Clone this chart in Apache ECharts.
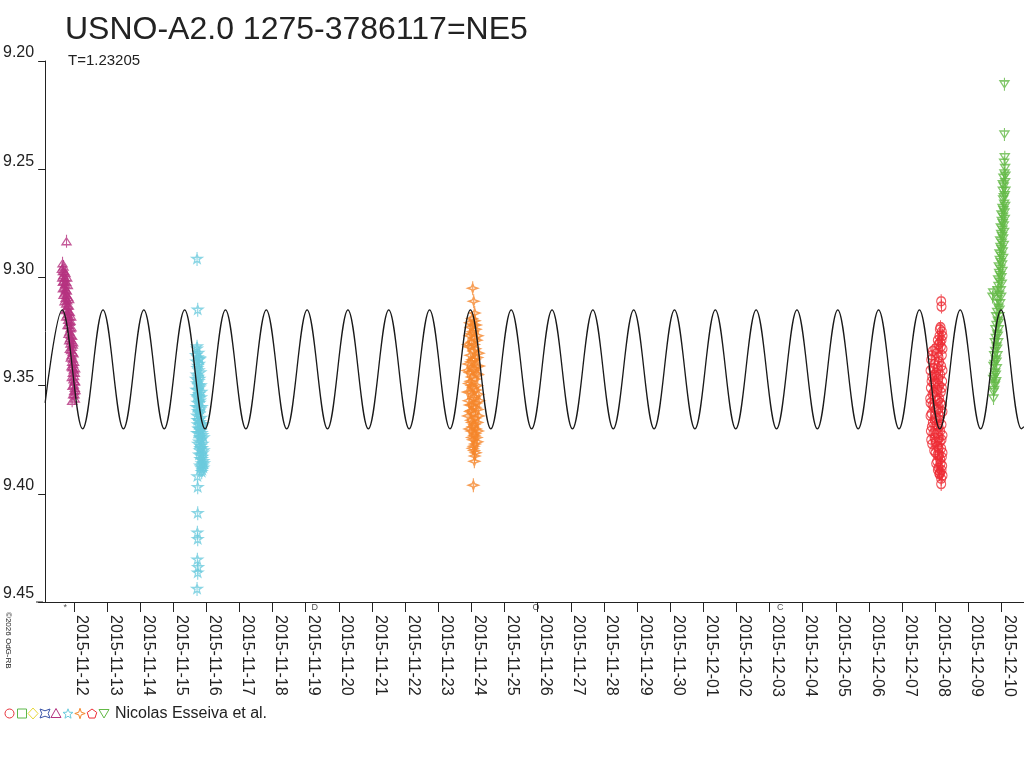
<!DOCTYPE html>
<html><head><meta charset="utf-8">
<script src="https://cdn.jsdelivr.net/npm/echarts@6/dist/echarts.min.js"></script>
<style>html,body{margin:0;padding:0;background:#fff}#c{width:1024px;height:768px}</style>
</head><body><div id="c"></div>
<script>
// time t = days since 2015-11-12 00:00
const dayTicks = [0,1,2,3,4,5,6,7,8,9,10,11,12,13,14,15,16,17,18,19,20,21,22,23,24,25,26,27,28];
const tickLabels = ['2015-11-12','2015-11-13','2015-11-14','2015-11-15','2015-11-16','2015-11-17','2015-11-18','2015-11-19','2015-11-20','2015-11-21','2015-11-22','2015-11-23','2015-11-24','2015-11-25','2015-11-26','2015-11-27','2015-11-28','2015-11-29','2015-11-30','2015-12-01','2015-12-02','2015-12-03','2015-12-04','2015-12-05','2015-12-06','2015-12-07','2015-12-08','2015-12-09','2015-12-10'];
const magTicks = [9.20,9.25,9.30,9.35,9.40,9.45];

// model curve (period T=1.23205): extremes
const curveT = [-0.865,-0.35,0.266,0.882,1.498,2.114,2.730,3.346,3.962,4.578,5.194,5.810,6.426,7.042,7.658,8.274,8.890,9.506,10.122,10.738,11.354,11.971,12.587,13.203,13.819,14.435,15.051,15.667,16.283,16.899,17.515,18.131,18.747,19.363,19.979,20.595,21.211,21.827,22.443,23.059,23.675,24.291,24.907,25.523,26.139,26.755,27.371,27.987,28.603,28.68];
const curveMag = [9.358,9.315,9.370,9.315,9.370,9.315,9.370,9.315,9.370,9.315,9.370,9.315,9.370,9.315,9.370,9.315,9.370,9.315,9.370,9.315,9.370,9.315,9.370,9.315,9.370,9.315,9.370,9.315,9.370,9.315,9.370,9.315,9.370,9.315,9.370,9.315,9.370,9.315,9.370,9.315,9.370,9.315,9.370,9.315,9.370,9.315,9.370,9.315,9.370,9.369];

const magentaTri = [[-0.22,9.2833],[-0.34,9.2935],[-0.31,9.2950],[-0.29,9.2970],[-0.32,9.2990],[-0.27,9.3000],[-0.33,9.3020],[-0.30,9.3015],[-0.20,9.3000],[-0.26,9.3030],[-0.28,9.3045],[-0.24,9.3055],[-0.27,9.3070],[-0.22,9.3080],[-0.25,9.3095],[-0.20,9.3105],[-0.14,9.3100],[-0.23,9.3120],[-0.18,9.3130],[-0.21,9.3145],[-0.16,9.3155],[-0.19,9.3170],[-0.08,9.3180],[-0.14,9.3180],[-0.17,9.3195],[-0.12,9.3205],[-0.15,9.3220],[-0.10,9.3235],[-0.13,9.3250],[-0.09,9.3265],[-0.11,9.3280],[-0.07,9.3290],[-0.10,9.3305],[-0.02,9.3300],[-0.06,9.3320],[-0.08,9.3335],[-0.04,9.3345],[-0.07,9.3360],[-0.03,9.3375],[-0.05,9.3390],[-0.02,9.3400],[0.04,9.3420],[-0.04,9.3415],[0.00,9.3425],[-0.03,9.3440],[0.01,9.3455],[-0.01,9.3470],[0.02,9.3480],[0.00,9.3495],[0.03,9.3510],[0.01,9.3525],[0.02,9.3540],[-0.05,9.3570],
[-0.36,9.296],[-0.25,9.298],[-0.35,9.300],[-0.23,9.302],[-0.33,9.305],[-0.21,9.306],[-0.31,9.308],[-0.17,9.309],[-0.28,9.311],[-0.15,9.313],[-0.26,9.315],[-0.12,9.316],[-0.23,9.318],[-0.10,9.320],[-0.19,9.322],[-0.07,9.323],[-0.16,9.326],[-0.05,9.327],[-0.14,9.329],[-0.03,9.331],[-0.12,9.333],[-0.01,9.335],[-0.09,9.337],[0.01,9.339],[-0.07,9.341],[0.03,9.344],[-0.06,9.346],[0.04,9.348],[-0.04,9.350],[0.05,9.352],[-0.02,9.354],[0.03,9.356],[-0.33,9.297],[-0.18,9.3035]];

const cyanStar = [[3.72,9.2915],[3.74,9.3150],[3.72,9.3320],[3.73,9.3920],[3.74,9.3970],[3.74,9.4090],[3.73,9.4180],[3.74,9.4210],[3.73,9.4305],[3.75,9.4340],[3.74,9.4365],[3.72,9.4440],
[3.72,9.333],[3.76,9.335],[3.74,9.337],[3.70,9.339],[3.78,9.340],[3.73,9.342],[3.77,9.343],[3.71,9.345],[3.75,9.346],[3.79,9.347],[3.72,9.349],[3.76,9.350],[3.80,9.351],[3.74,9.352],[3.78,9.354],[3.71,9.355],[3.75,9.356],[3.81,9.357],[3.73,9.358],[3.77,9.360],[3.82,9.361],[3.75,9.362],[3.79,9.363],[3.72,9.364],[3.84,9.365],[3.77,9.366],[3.81,9.367],[3.74,9.368],[3.86,9.369],[3.79,9.370],[3.83,9.371],[3.76,9.372],[3.88,9.373],[3.81,9.374],[3.85,9.375],[3.78,9.376],[3.89,9.377],[3.83,9.378],[3.87,9.379],[3.80,9.380],[3.90,9.381],[3.85,9.382],[3.88,9.383],[3.82,9.384],[3.91,9.385],[3.86,9.386],[3.89,9.387],[3.84,9.388],[3.88,9.389],
[3.69,9.336],[3.80,9.338],[3.75,9.341],[3.82,9.344],[3.69,9.347],[3.77,9.348],[3.83,9.350],[3.70,9.352],[3.85,9.353],[3.76,9.355],[3.80,9.358],[3.70,9.360],[3.86,9.360],[3.78,9.362],[3.73,9.366],[3.83,9.368],[3.90,9.368],[3.76,9.370],[3.72,9.372],[3.86,9.372],[3.92,9.374],[3.75,9.377],[3.82,9.379],[3.92,9.380],[3.78,9.382],[3.87,9.384],[3.93,9.386],[3.81,9.387],[3.91,9.388],[3.86,9.390],[3.80,9.3375],[3.84,9.3555]];

const orangeSpark = [[12.04,9.305],[12.07,9.311],[12.10,9.3165],[12.09,9.385],[12.06,9.396],
[12.02,9.319],[12.10,9.320],[12.06,9.322],[11.98,9.323],[12.13,9.324],[12.04,9.325],[11.95,9.327],[12.09,9.328],[12.16,9.329],[12.00,9.330],[11.93,9.332],[12.12,9.333],[12.06,9.334],[11.97,9.336],[12.18,9.337],[12.03,9.338],[11.91,9.340],[12.14,9.341],[12.08,9.342],[11.95,9.344],[12.20,9.345],[12.01,9.346],[12.11,9.347],[11.93,9.349],[12.17,9.350],[12.05,9.351],[11.98,9.353],[12.21,9.354],[12.09,9.355],[11.92,9.357],[12.15,9.358],[12.02,9.359],[12.19,9.361],[11.96,9.362],[12.07,9.363],[12.12,9.365],[11.99,9.366],[12.18,9.367],[12.04,9.369],[12.14,9.370],[12.00,9.371],[12.09,9.373],[12.16,9.374],[12.05,9.375],[12.11,9.377],[12.07,9.378],
[11.96,9.321],[12.14,9.322],[12.00,9.326],[12.19,9.327],[11.90,9.331],[12.08,9.331],[12.22,9.335],[11.99,9.339],[12.10,9.338],[11.88,9.343],[12.05,9.343],[12.23,9.341],[11.97,9.348],[12.14,9.352],[12.01,9.350],[11.89,9.353],[12.24,9.357],[12.06,9.356],[11.95,9.359],[12.12,9.360],[11.90,9.364],[12.22,9.364],[12.02,9.367],[12.09,9.368],[11.94,9.370],[12.20,9.371],[12.12,9.372],[12.02,9.374],[12.18,9.376],[12.08,9.380],[12.13,9.381],[12.04,9.379],[12.10,9.3825],[12.00,9.3615],[12.16,9.3445]];

const redCircle = [[26.18,9.311],[26.19,9.3135],[26.13,9.3906],[26.18,9.393],[26.18,9.3955],
[26.16,9.323],[26.20,9.325],[26.13,9.327],[26.19,9.329],[26.10,9.331],[26.17,9.332],[25.93,9.334],[26.05,9.335],[26.20,9.336],[25.88,9.338],[26.12,9.339],[25.98,9.340],[26.18,9.341],[25.86,9.343],[26.03,9.344],[26.15,9.345],[25.91,9.346],[26.09,9.347],[26.21,9.348],[25.95,9.349],[25.87,9.351],[26.06,9.352],[26.17,9.353],[25.92,9.354],[26.00,9.355],[26.12,9.356],[25.86,9.358],[26.20,9.359],[25.96,9.360],[26.08,9.361],[25.89,9.363],[26.15,9.364],[26.02,9.365],[25.93,9.367],[26.19,9.368],[26.10,9.369],[25.87,9.371],[26.05,9.372],[26.22,9.373],[25.98,9.374],[26.14,9.376],[25.91,9.377],[26.07,9.378],[26.18,9.379],[26.01,9.381],[26.12,9.382],[26.20,9.383],[26.06,9.385],[26.16,9.386],[26.10,9.388],[26.19,9.389],[26.13,9.391],
[26.14,9.324],[26.22,9.327],[26.08,9.329],[26.15,9.330],[26.00,9.333],[26.22,9.333],[25.90,9.336],[26.10,9.337],[25.94,9.342],[26.22,9.343],[26.07,9.342],[25.98,9.345],[26.12,9.350],[25.89,9.348],[26.02,9.349],[26.20,9.351],[25.96,9.353],[25.85,9.356],[26.08,9.357],[26.15,9.358],[25.92,9.359],[26.03,9.361],[26.22,9.362],[25.86,9.364],[25.99,9.366],[26.12,9.366],[26.06,9.368],[25.90,9.369],[26.15,9.371],[25.95,9.372],[26.11,9.374],[26.19,9.375],[26.02,9.376],[25.88,9.375],[26.10,9.379],[25.97,9.380],[26.22,9.381],[26.07,9.382],[26.15,9.384],[26.03,9.386],[26.21,9.387],[26.08,9.389],[26.15,9.390],[26.22,9.3915]];

const greenTri = [[28.09,9.2108],[28.09,9.2340],[28.10,9.2445],[28.08,9.2470],[28.11,9.2495],
[28.09,9.252],[28.06,9.254],[28.11,9.256],[28.07,9.258],[28.04,9.260],[28.10,9.262],[28.05,9.264],[28.08,9.266],[28.03,9.268],[28.09,9.270],[28.05,9.272],[28.01,9.274],[28.07,9.276],[28.03,9.278],[27.99,9.280],[28.05,9.282],[28.01,9.284],[27.97,9.286],[28.04,9.288],[27.99,9.290],[27.95,9.292],[28.02,9.294],[27.97,9.296],[27.93,9.298],[28.00,9.300],[27.95,9.302],[27.91,9.304],[27.98,9.306],[27.93,9.308],[27.73,9.309],[27.89,9.310],[27.96,9.312],[27.91,9.314],[27.87,9.316],[27.94,9.318],[27.89,9.320],[27.85,9.322],[27.92,9.324],[27.87,9.326],[27.83,9.328],[27.90,9.330],[27.85,9.332],[27.81,9.334],[27.88,9.336],[27.83,9.338],[27.79,9.340],[27.86,9.342],[27.81,9.344],[27.78,9.346],[27.84,9.348],[27.80,9.350],[27.78,9.352],[27.76,9.356],
[28.12,9.253],[28.04,9.257],[28.12,9.260],[28.07,9.263],[28.11,9.267],[28.06,9.269],[28.00,9.271],[28.10,9.273],[28.04,9.275],[27.98,9.277],[28.08,9.279],[28.02,9.281],[27.96,9.283],[28.07,9.285],[28.00,9.287],[27.94,9.289],[28.05,9.291],[27.98,9.293],[27.92,9.295],[28.03,9.297],[27.96,9.299],[27.90,9.301],[28.01,9.303],[27.88,9.306],[27.75,9.307],[27.99,9.309],[27.86,9.312],[27.94,9.315],[27.84,9.318],[27.92,9.321],[27.82,9.324],[27.89,9.327],[27.80,9.330],[27.87,9.333],[27.78,9.336],[27.85,9.339],[27.76,9.341],[27.83,9.345],[27.75,9.347],[27.81,9.349],[27.76,9.353]];

const moonT = [-0.26, 7.27, 13.95, 21.32];
const moonGlyph = ['*', 'D', 'O', 'C'];

const FONT = "'Liberation Sans', Arial, sans-serif";
const INK = '#222';

const chart = echarts.init(document.getElementById('c'));

function pts(list){ return list.map(p => [p[0], p[1]]); }
function scatter(name, data, symbol, size, color){
  return { name, type:'scatter', data: pts(data), symbol, symbolSize: size,
    itemStyle:{ color:'transparent', borderColor: color, borderWidth: 1.3 },
    z: 2, silent: true, animation:false };
}
const triUp = 'path://M5,3L9.5,10L0.5,10Z M5,0L5,13';
const star5 = 'path://M5,2L6.18,5.38L9.76,5.45L6.9,7.62L7.94,11.05L5,9L2.06,11.05L3.1,7.62L0.24,5.45L3.82,5.38Z M5,0L5,14';
const spark4 = 'path://M5,2L6.3,5.7L10,7L6.3,8.3L5,12L3.7,8.3L0,7L3.7,5.7Z M5,0L5,14';
const circ = 'path://M0.5,7A4.5,4.5,0,1,0,9.5,7A4.5,4.5,0,1,0,0.5,7Z M5,0L5,14';
const triDown = 'path://M0.5,3L9.5,3L5,10Z M5,0L5,13';

function starPts(cx, cy, ro, ri, n){
  const out = [];
  for (let i = 0; i < 2*n; i++){
    const a = -Math.PI/2 + i*Math.PI/n, r = i%2 ? ri : ro;
    out.push([cx + r*Math.cos(a), cy + r*Math.sin(a)]);
  }
  return out;
}
function poly(points, color){ return {type:'polygon', shape:{points}, style:{fill:'none', stroke:color, lineWidth:1}}; }
const LY = 713.5;

const option = {
  backgroundColor:'#fff',
  animation:false,
  title:[
    { text:'USNO-A2.0 1275-3786117=NE5', left:60, top:9, textStyle:{ fontSize:32, fontWeight:'normal', color:INK, fontFamily:FONT } },
    { text:'T=1.23205', left:63, top:48, textStyle:{ fontSize:15, fontWeight:'normal', color:INK, fontFamily:FONT } }
  ],
  grid:{ left:43, right:0, top:61, bottom:166, containLabel:false },
  xAxis:{
    type:'value', min:-0.865, max:28.68,
    axisLine:{ show:true, onZero:false, lineStyle:{ color:INK, width:1 } },
    axisTick:{ show:true, customValues: dayTicks, length:10, lineStyle:{ color:INK } },
    splitLine:{ show:false },
    axisLabel:{ customValues: dayTicks, rotate:-90, margin:13, verticalAlign:'bottom', fontSize:16, color:INK, fontFamily:FONT,
      formatter: v => tickLabels[Math.round(v)] || '' }
  },
  yAxis:{
    type:'value', inverse:true, min:9.20, max:9.45, interval:0.05,
    axisLine:{ show:true, onZero:false, lineStyle:{ color:INK, width:1 } },
    axisTick:{ show:true, inside:false, length:7, lineStyle:{ color:INK } },
    splitLine:{ show:false },
    axisLabel:{ margin:11, verticalAlign:'bottom', fontSize:16, color:INK, fontFamily:FONT,
      formatter: v => Number(v).toFixed(2) }
  },
  series:[
    scatter('magenta', magentaTri, triUp, [9,13], '#b5327f'),
    scatter('cyan', cyanStar, star5, [10,14], '#6ccbdd'),
    scatter('orange', orangeSpark, spark4, [10,14], '#f5862a'),
    scatter('red', redCircle, circ, [9,14], '#ee2c34'),
    scatter('green', greenTri, triDown, [9,13], '#63b946'),
    { name:'model', type:'line', data: curveT.map((t,i)=>[t, curveMag[i]]), smooth:0.36, showSymbol:false, symbol:'none',
      lineStyle:{ color:'#1a1a1a', width:1.3 }, z:5, silent:true, animation:false },
    { name:'moon', type:'scatter', data: moonT.map((t,i)=>[t, 9.45, moonGlyph[i]]), symbol:'circle', symbolSize:0, clip:false,
      label:{ show:true, position:'bottom', distance:1, formatter: p => p.data[2], fontSize:9, color:INK, fontFamily:FONT },
      z:6, silent:true }
  ],
  graphic:[
    { type:'line', shape:{ x1:36, y1:602, x2:43, y2:602 }, style:{ stroke:INK, lineWidth:1 } },
    { type:'text', x:12, y:612, rotation:-Math.PI/2, style:{ text:'©2026 OdG-RB', fontSize:8, fill:INK, fontFamily:FONT } },
    { type:'circle', shape:{ cx:9.5, cy:LY, r:4.5 }, style:{ fill:'none', stroke:'#e8303a', lineWidth:1 } },
    { type:'rect', shape:{ x:17.5, y:709, width:9, height:9 }, style:{ fill:'none', stroke:'#5cb84a', lineWidth:1 } },
    poly([[33,708],[38,LY],[33,719],[28,LY]], '#e8d838'),
    poly([[40,709],[45,710.8],[50,709],[48.2,LY],[50,718],[45,716.2],[40,718],[41.8,LY]], '#3b55a8'),
    poly([[56,708.5],[61,717.5],[51,717.5]], '#b5327f'),
    poly(starPts(68,714,5.2,2.2,5), '#6ccbdd'),
    poly(starPts(80,LY,5.2,1.8,4), '#f5862a'),
    poly(starPts(92,714,5,5*Math.cos(Math.PI/5),5).filter((p,i)=>i%2===0), '#ee2c34'),
    poly([[99,709.5],[109,709.5],[104,718]], '#63b946'),
    { type:'text', x:115, y:LY, style:{ text:'Nicolas Esseiva et al.', fontSize:16, fill:INK, fontFamily:FONT, verticalAlign:'middle' } }
  ]
};
chart.setOption(option);
</script>
</body></html>
